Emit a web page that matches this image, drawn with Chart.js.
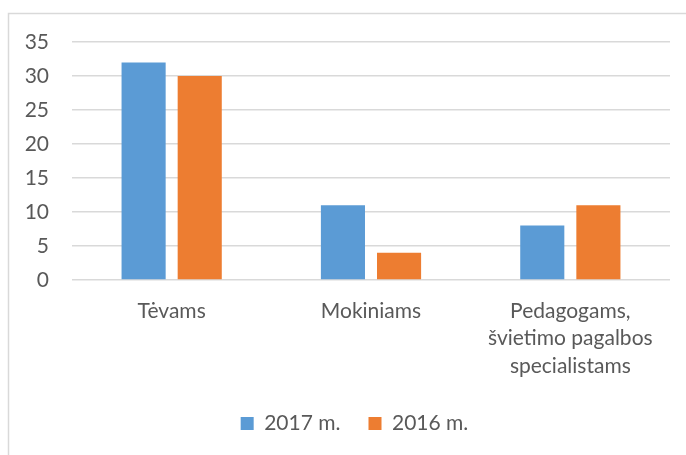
<!DOCTYPE html>
<html>
<head>
<meta charset="utf-8">
<script src="https://cdn.jsdelivr.net/npm/chart.js@4/dist/chart.umd.min.js"></script>
<style>
  html, body { margin: 0; padding: 0; background: #ffffff; }
  #wrap { width: 686px; height: 455px; position: relative; }
</style>
</head>
<body>
<div id="wrap"><canvas id="c" width="686" height="455"></canvas></div>
<script>
const categories = ['Tėvams', 'Mokiniams', ['Pedagogams,', 'švietimo pagalbos', 'specialistams']];
const seriesNames = ['2017 m.', '2016 m.'];
const values2017 = [32, 11, 8];
const values2016 = [30, 4, 11];
const yTicks = [0, 5, 10, 15, 20, 25, 30, 35];

const textColor = '#595959';
const gridColor = '#d9d9d9';
const fontFamily = 'Lato, "Open Sans", sans-serif';

const borderPlugin = {
  id: 'outerBorder',
  beforeDraw(chart) {
    const ctx = chart.ctx;
    ctx.save();
    ctx.fillStyle = '#ffffff';
    ctx.fillRect(0, 0, chart.width, chart.height);
    ctx.strokeStyle = gridColor;
    ctx.lineWidth = 1.5;
    ctx.strokeRect(8.5, 13.5, 800, 600);
    ctx.restore();
  }
};

const legendShift = {
  id: 'legendShift',
  afterLayout(chart) {
    if (chart.legend) {
      chart.legend.left += 19.5;
      chart.legend.right += 19.5;
    }
  }
};

new Chart(document.getElementById('c'), {
  type: 'bar',
  data: {
    labels: categories,
    datasets: [
      { label: seriesNames[0], data: values2017, backgroundColor: '#5B9BD5', borderWidth: 0,
        categoryPercentage: 0.563, barPercentage: 0.786 },
      { label: seriesNames[1], data: values2016, backgroundColor: '#ED7D31', borderWidth: 0,
        categoryPercentage: 0.563, barPercentage: 0.786 }
    ]
  },
  options: {
    responsive: false,
    animation: false,
    devicePixelRatio: 1,
    layout: { padding: { top: 42, right: 16, left: 0, bottom: 11 } },
    plugins: {
      tooltip: { enabled: false },
      legend: {
        position: 'bottom',
        labels: {
          color: textColor,
          font: { family: fontFamily, size: 21 },
          boxWidth: 13,
          boxHeight: 13,
          padding: 28
        }
      }
    },
    scales: {
      x: {
        grid: { display: false, drawTicks: false },
        border: { display: false },
        ticks: {
          color: textColor,
          font: { family: fontFamily, size: 21, lineHeight: 1.32 },
          padding: 17,
          maxRotation: 0,
          autoSkip: false
        },
        afterFit(scale) { scale.height = 105; }
      },
      y: {
        min: 0,
        max: 35,
        afterBuildTicks(scale) { scale.ticks = yTicks.map(v => ({ value: v })); },
        grid: { color: gridColor, lineWidth: 1.5, drawTicks: false },
        border: { display: false },
        ticks: {
          color: textColor,
          font: { family: fontFamily, size: 21 },
          padding: 23
        },
        afterFit(scale) { scale.width = 72; }
      }
    }
  },
  plugins: [borderPlugin, legendShift]
});
</script>
</body>
</html>
